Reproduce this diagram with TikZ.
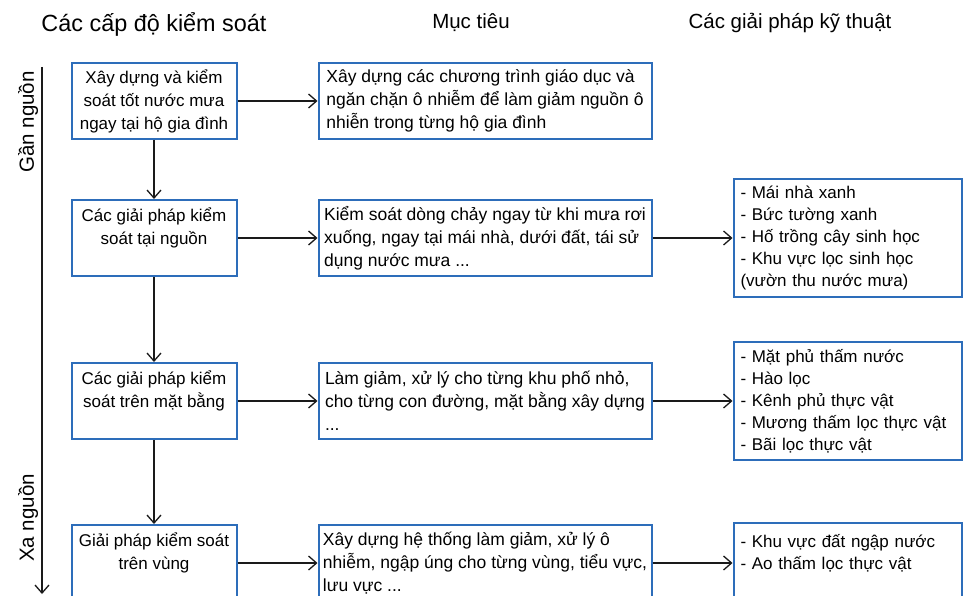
\documentclass[tikz,border=0pt]{standalone}
\usepackage{fontspec}
\setmainfont{Liberation Sans}
\usetikzlibrary{arrows.meta, positioning}
\definecolor{boxblue}{HTML}{2D6DBA}
\definecolor{ink}{HTML}{1A1A1A}

\begin{document}
\begin{tikzpicture}[x=1pt, y=-1pt,
  lvl/.style={draw=boxblue, line width=2pt, minimum width=165pt, minimum height=76pt,
              inner sep=0pt, align=center, font=\fontsize{17}{23}\selectfont},
  goal/.style={lvl, minimum width=333pt, align=left, font=\fontsize{17.5}{23}\selectfont},
  tech/.style={draw=boxblue, line width=2pt, text width=214pt, inner xsep=7pt, inner ysep=7pt,
               align=left, font=\fontsize{17}{22}\selectfont},
  head/.style={font=\fontsize{20.5}{24}\selectfont},
  arr/.style={-{Straight Barb[length=8pt,width=14pt]}, line width=1.3pt, color=ink}
]
\useasboundingbox (0,0) rectangle (976,596);
\clip (0,0) rectangle (976,596);

\node[head, font=\fontsize{23.4}{26}\selectfont] (hlvl) at (154,24) {Các cấp độ kiểm soát};
\node[head] (hgoal) at (471,23) {Mục tiêu};
\node[head] (htech) at (790,23) {Các giải pháp kỹ thuật};

\node[lvl]                    (l1) at (154,101) {Xây dựng và kiểm\\soát tốt nước mưa\\ngay tại hộ gia đình};
\node[lvl, below=59pt of l1]  (l2) {Các giải pháp kiểm\\soát tại nguồn\\~};
\node[lvl, below=85pt of l2]  (l3) {Các giải pháp kiểm\\soát trên mặt bằng\\~};
\node[lvl, below=84pt of l3]  (l4) {Giải pháp kiểm soát\\trên vùng\\~};

\node[goal, right=80pt of l1] (m1) {Xây dựng các chương trình giáo dục và\\ngăn chặn ô nhiễm để làm giảm nguồn ô\\nhiễn trong từng hộ gia đình};
\node[goal, right=80pt of l2] (m2) {Kiểm soát dòng chảy ngay từ khi mưa rơi\\xuống, ngay tại mái nhà, dưới đất, tái sử\\dụng nước mưa ...};
\node[goal, right=80pt of l3] (m3) {Làm giảm, xử lý cho từng khu phố nhỏ,\\cho từng con đường, mặt bằng xây dựng\\...};
\node[goal, right=80pt of l4] (m4) {Xây dựng hệ thống làm giảm, xử lý ô\\nhiễm, ngập úng cho từng vùng, tiểu vực,\\lưu vực ...};

\node[tech, right=80pt of m2] (r2) {- Mái nhà xanh\\- Bức tường xanh\\- Hố trồng cây sinh học\\- Khu vực lọc sinh học\\(vườn thu nước mưa)};
\node[tech, right=80pt of m3] (r3) {- Mặt phủ thấm nước\\- Hào lọc\\- Kênh phủ thực vật\\- Mương thấm lọc thực vật\\- Bãi lọc thực vật};
\node[tech, right=80pt of m4, minimum height=80pt] (r4) {- Khu vực đất ngập nước\\- Ao thấm lọc thực vật\\~};

\foreach \a/\b in {l1/l2,l2/l3,l3/l4,l1/m1,l2/m2,l3/m3,l4/m4,m2/r2,m3/r3,m4/r4} \draw[arr] (\a)--(\b);

% source axis on the left
\coordinate (near) at (42,67);
\coordinate (far)  at (42,594);
\draw[arr] (near)--(far);
\node[head, rotate=90] (gan) at (28,122) {Gần nguồn};
\node[head, rotate=90] (xa)  at (28,518) {Xa nguồn};
\end{tikzpicture}
\end{document}
